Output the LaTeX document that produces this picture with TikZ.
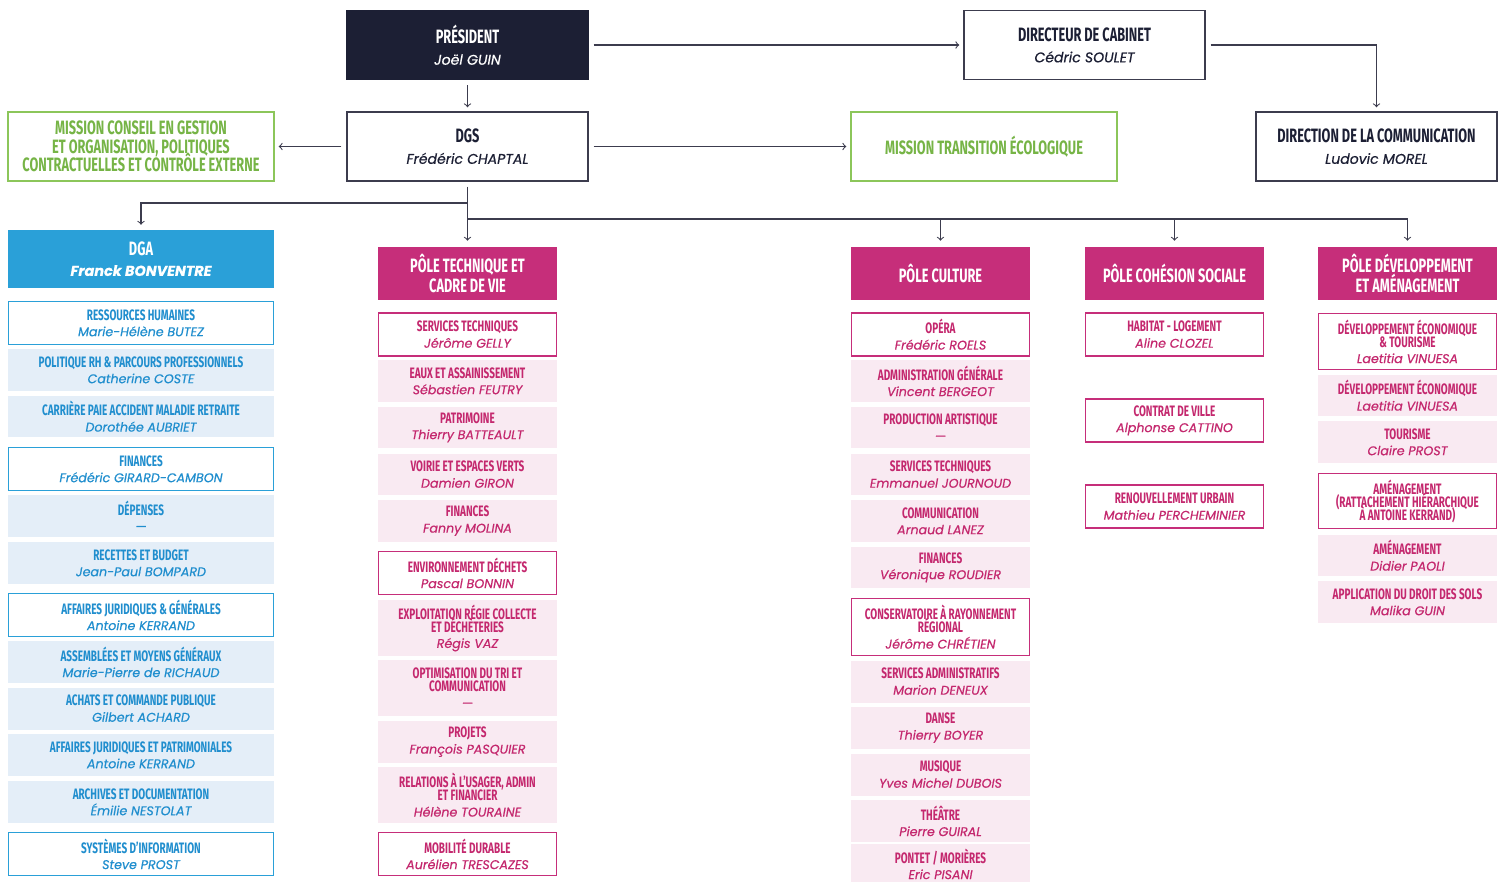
\documentclass[tikz,border=0pt]{standalone}
\usepackage{fontspec}
\usepackage{tikz}
\usetikzlibrary{positioning,calc,arrows.meta}
\setmainfont{Fira Sans}
\newfontfamily\condfont[FakeStretch=0.66]{Fira Sans}
\newfontfamily\namefont[FakeBold=0.5]{Poppins}
\definecolor{navy}{RGB}{28,31,52}
\definecolor{boxgrey}{RGB}{60,60,78}
\definecolor{mgreen}{RGB}{140,198,90}
\definecolor{tgreen}{RGB}{118,180,70}
\definecolor{dblue}{RGB}{42,160,216}
\definecolor{lblue}{RGB}{228,238,248}
\definecolor{tblue}{RGB}{32,142,206}
\definecolor{pink}{RGB}{198,46,122}
\definecolor{lpink}{RGB}{249,234,242}
\definecolor{tpink}{RGB}{196,40,110}
\newcommand{\ttl}[1]{{\condfont\bfseries #1}}
\newcommand{\nm}[1]{{\namefont\itshape\fontsize{7.2}{9}\selectfont #1}}
\newcommand{\topnm}[1]{{\namefont\itshape\fontsize{8}{9}\selectfont #1}}

\begin{document}
\setlength{\lineskiplimit}{-5pt}
\begin{tikzpicture}[x=0.02cm, y=-0.02cm,
    every node/.style={align=center, inner sep=0pt},
    topbox/.style={draw=boxgrey, line width=0.8pt, fill=white, text=navy, minimum width=4.82cm, minimum height=1.38cm, font=\fontsize{11}{12}\selectfont},
    mission/.style={draw=mgreen, line width=0.8pt, fill=white, text=tgreen, minimum width=5.32cm, minimum height=1.38cm, font=\fontsize{11}{10.4}\selectfont},
    bhead/.style={fill=dblue, text=white, minimum width=5.32cm, minimum height=1.16cm, font=\fontsize{11}{11.5}\selectfont},
    bitem/.style={draw=dblue, line width=0.9pt, fill=white, text=tblue, minimum width=5.3cm, minimum height=0.86cm, font=\fontsize{8.6}{9}\selectfont},
    bfill/.style={fill=lblue, text=tblue, minimum width=5.32cm, minimum height=0.84cm, font=\fontsize{8.6}{9}\selectfont},
    phead/.style={fill=pink, text=white, minimum width=3.58cm, minimum height=1.06cm, font=\fontsize{11}{11.5}\selectfont},
    pitem/.style={draw=pink, line width=0.9pt, fill=white, text=tpink, minimum width=3.56cm, minimum height=0.86cm, font=\fontsize{8.6}{9}\selectfont},
    pfill/.style={fill=lpink, text=tpink, minimum width=3.58cm, minimum height=0.84cm, font=\fontsize{8.6}{9}\selectfont},
    arr/.style={->, >=to, line width=0.6pt, draw=boxgrey, shorten >=2.3pt},
    link/.style={line width=0.6pt, draw=boxgrey}]
    \useasboundingbox (0,0) rectangle (1502,882);

    % Direction
    \node[topbox, fill=navy, draw=navy, text=white] (pres) at (467.5,45) {\ttl{PRÉSIDENT}\\\topnm{Joël GUIN}};
    \node[topbox] (cab) at (1084.5,45) {\ttl{DIRECTEUR DE CABINET}\\\topnm{Cédric SOULET}};
    \node[topbox] (dgs) at (467.5,146.5) {\ttl{DGS}\\\topnm{Frédéric CHAPTAL}};
    \node[topbox] (com) at (1376.5,146.5) {\ttl{DIRECTION DE LA COMMUNICATION}\\\topnm{Ludovic MOREL}};
    \node[mission] (conseil) at (141,146.5) {\ttl{MISSION CONSEIL EN GESTION}\\\ttl{ET ORGANISATION, POLITIQUES}\\\ttl{CONTRACTUELLES ET CONTRÔLE EXTERNE}};
    \node[mission] (mtrans) at (984,146.5) {\ttl{MISSION TRANSITION ÉCOLOGIQUE}};

    \draw[arr, shorten <=2.8pt] (pres) -- (cab);
    \draw[arr, shorten <=2.8pt] (cab.east) -| (com.north);
    \draw[arr, shorten <=3pt] (pres) -- (dgs);
    \draw[arr, shorten <=2.8pt] (dgs) -- (conseil);
    \draw[arr, shorten <=2.8pt] (dgs) -- (mtrans);

    % DGA column
    \node[bhead] (dga) at (141,259) {\ttl{DGA}\\{\namefont\bfseries\itshape\fontsize{8.2}{10}\selectfont Franck BONVENTRE}};
    \node[bitem] (rh) at (141,323) {\ttl{RESSOURCES HUMAINES}\\\nm{Marie-Hélène BUTEZ}};
    \node[bfill] (polrh) at (141,370) {\ttl{POLITIQUE RH \& PARCOURS PROFESSIONNELS}\\\nm{Catherine COSTE}};
    \node[bfill] (carr) at (141,416.5) {\ttl{CARRIÈRE PAIE ACCIDENT MALADIE RETRAITE}\\\nm{Dorothée AUBRIET}};
    \node[bitem] (finb) at (141,469) {\ttl{FINANCES}\\\nm{Frédéric GIRARD-CAMBON}};
    \node[bfill] (dep) at (141,516) {\ttl{DÉPENSES}\\\nm{—}};
    \node[bfill] (rec) at (141,563) {\ttl{RECETTES ET BUDGET}\\\nm{Jean-Paul BOMPARD}};
    \node[bitem] (ajg) at (141,615) {\ttl{AFFAIRES JURIDIQUES \& GÉNÉRALES}\\\nm{Antoine KERRAND}};
    \node[bfill] (ass) at (141,662) {\ttl{ASSEMBLÉES ET MOYENS GÉNÉRAUX}\\\nm{Marie-Pierre de RICHAUD}};
    \node[bfill] (ach) at (141,708.5) {\ttl{ACHATS ET COMMANDE PUBLIQUE}\\\nm{Gilbert ACHARD}};
    \node[bfill] (ajp) at (141,755) {\ttl{AFFAIRES JURIDIQUES ET PATRIMONIALES}\\\nm{Antoine KERRAND}};
    \node[bfill] (arch) at (141,802) {\ttl{ARCHIVES ET DOCUMENTATION}\\\nm{Émilie NESTOLAT}};
    \node[bitem] (si) at (141,854) {\ttl{SYSTÈMES D’INFORMATION}\\\nm{Steve PROST}};

    % Pôle technique
    \node[phead] (ptech) at (467.5,273.5) {\ttl{PÔLE TECHNIQUE ET}\\\ttl{CADRE DE VIE}};
    \node[pitem] (st) at (467.5,334.5) {\ttl{SERVICES TECHNIQUES}\\\nm{Jérôme GELLY}};
    \node[pfill] (eaux) at (467.5,381) {\ttl{EAUX ET ASSAINISSEMENT}\\\nm{Sébastien FEUTRY}};
    \node[pfill] (patr) at (467.5,427.5) {\ttl{PATRIMOINE}\\\nm{Thierry BATTEAULT}};
    \node[pfill] (voir) at (467.5,474.5) {\ttl{VOIRIE ET ESPACES VERTS}\\\nm{Damien GIRON}};
    \node[pfill] (fint) at (467.5,521) {\ttl{FINANCES}\\\nm{Fanny MOLINA}};
    \node[pitem] (env) at (467.5,573) {\ttl{ENVIRONNEMENT DÉCHETS}\\\nm{Pascal BONNIN}};
    \node[pfill, minimum height=1.12cm] (expl) at (467.5,628) {\ttl{EXPLOITATION RÉGIE COLLECTE}\\[-1.6pt]\ttl{ET DÉCHÈTERIES}\\\nm{Régis VAZ}};
    \node[pfill, minimum height=1.12cm] (opt) at (467.5,688) {\ttl{OPTIMISATION DU TRI ET}\\[-1.6pt]\ttl{COMMUNICATION}\\\nm{—}};
    \node[pfill] (proj) at (467.5,742) {\ttl{PROJETS}\\\nm{François PASQUIER}};
    \node[pfill, minimum height=1.12cm] (rel) at (467.5,795) {\ttl{RELATIONS À L’USAGER, ADMIN}\\[-1.6pt]\ttl{ET FINANCIER}\\\nm{Hélène TOURAINE}};
    \node[pitem] (mob) at (467.5,854) {\ttl{MOBILITÉ DURABLE}\\\nm{Aurélien TRESCAZES}};

    % Pôle culture
    \node[phead] (pcult) at (940.5,273.5) {\ttl{PÔLE CULTURE}};
    \node[pitem] (opera) at (940.5,334.5) {\ttl{OPÉRA}\\\nm{Frédéric ROELS}};
    \node[pfill] (adm) at (940.5,381) {\ttl{ADMINISTRATION GÉNÉRALE}\\\nm{Vincent BERGEOT}};
    \node[pfill] (prod) at (940.5,427.5) {\ttl{PRODUCTION ARTISTIQUE}\\\nm{—}};
    \node[pfill] (stc) at (940.5,474.5) {\ttl{SERVICES TECHNIQUES}\\\nm{Emmanuel JOURNOUD}};
    \node[pfill] (commc) at (940.5,521) {\ttl{COMMUNICATION}\\\nm{Arnaud LANEZ}};
    \node[pfill] (finc) at (940.5,567.5) {\ttl{FINANCES}\\\nm{Véronique ROUDIER}};
    \node[pitem, minimum height=1.14cm] (cons) at (940.5,627) {\ttl{CONSERVATOIRE À RAYONNEMENT}\\[-1.6pt]\ttl{RÉGIONAL}\\\nm{Jérôme CHRÉTIEN}};
    \node[pfill] (sadm) at (940.5,681.5) {\ttl{SERVICES ADMINISTRATIFS}\\\nm{Marion DENEUX}};
    \node[pfill] (danse) at (940.5,728) {\ttl{DANSE}\\\nm{Thierry BOYER}};
    \node[pfill] (mus) at (940.5,774.5) {\ttl{MUSIQUE}\\\nm{Yves Michel DUBOIS}};
    \node[pfill] (theat) at (940.5,821) {\ttl{THÉÂTRE}\\\nm{Pierre GUIRAL}};
    \node[pfill, minimum height=0.8cm] (pontet) at (940.5,864) {\ttl{PONTET / MORIÈRES}\\\nm{Eric PISANI}};

    % Pôle cohésion sociale
    \node[phead] (pcoh) at (1174.5,273.5) {\ttl{PÔLE COHÉSION SOCIALE}};
    \node[pitem] (hab) at (1174.5,334.5) {\ttl{HABITAT - LOGEMENT}\\\nm{Aline CLOZEL}};
    \node[pitem] (cv) at (1174.5,420.5) {\ttl{CONTRAT DE VILLE}\\\nm{Alphonse CATTINO}};
    \node[pitem] (ru) at (1174.5,506.5) {\ttl{RENOUVELLEMENT URBAIN}\\\nm{Mathieu PERCHEMINIER}};

    % Pôle développement
    \node[phead] (pdev) at (1407.5,273.5) {\ttl{PÔLE DÉVELOPPEMENT}\\\ttl{ET AMÉNAGEMENT}};
    \node[pitem, minimum height=1.12cm] (dett) at (1407.5,341.5) {\ttl{DÉVELOPPEMENT ÉCONOMIQUE}\\[-1.6pt]\ttl{\& TOURISME}\\\nm{Laetitia VINUESA}};
    \node[pfill] (deco) at (1407.5,395.5) {\ttl{DÉVELOPPEMENT ÉCONOMIQUE}\\\nm{Laetitia VINUESA}};
    \node[pfill] (tour) at (1407.5,442) {\ttl{TOURISME}\\\nm{Claire PROST}};
    \node[pitem, minimum height=1.1cm] (amr) at (1407.5,501) {\ttl{AMÉNAGEMENT}\\[-1.6pt]\ttl{(RATTACHEMENT HIÉRARCHIQUE}\\[-1.6pt]\ttl{À ANTOINE KERRAND)}};
    \node[pfill] (amd) at (1407.5,555.5) {\ttl{AMÉNAGEMENT}\\\nm{Didier PAOLI}};
    \node[pfill] (ads) at (1407.5,602) {\ttl{APPLICATION DU DROIT DES SOLS}\\\nm{Malika GUIN}};

    % DGS links
    \coordinate (j1) at (467.5,203);
    \coordinate (j2) at (467.5,219);
    \draw[arr, shorten <=2.8pt, shorten >=3.4pt] (dgs) -- (ptech);
    \draw[arr, shorten >=2.8pt] (j1) -| (dga);
    \draw[arr, shorten >=3.4pt] (j2) -| (pcult);
    \draw[arr, shorten >=3.4pt] (j2) -| (pcoh);
    \draw[arr, shorten >=3.4pt] (j2) -| (pdev);
\end{tikzpicture}
\end{document}
